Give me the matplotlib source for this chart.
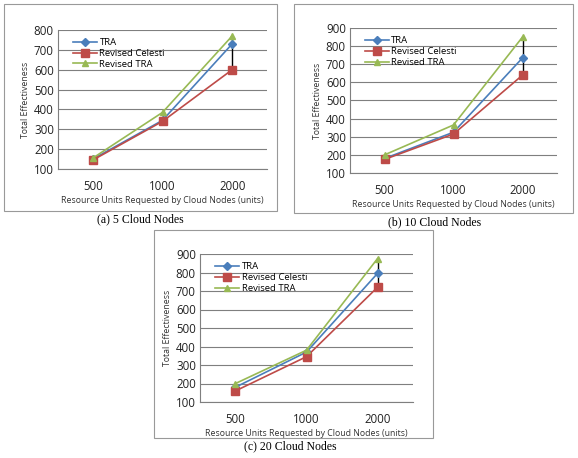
import numpy as np
import matplotlib
matplotlib.use("Agg")
from matplotlib import pyplot as plt
from matplotlib.patches import Rectangle

units = ["500", "1000", "2000"]
series_names = ["TRA", "Revised Celesti", "Revised TRA"]

tra_5 = [150, 345, 730]
celesti_5 = [145, 340, 600]
rtra_5 = [155, 385, 770]

tra_10 = [180, 325, 735]
celesti_10 = [175, 315, 640]
rtra_10 = [200, 365, 850]

tra_20 = [180, 370, 795]
celesti_20 = [160, 345, 720]
rtra_20 = [200, 380, 875]

captions = ["(a) 5 Cloud Nodes", "(b) 10 Cloud Nodes", "(c) 20 Cloud Nodes"]

W, H = 578, 458
colors = ["#4A7EBB", "#BE4B48", "#98B954"]
markers = ["D", "s", "^"]
msizes = [4, 6, 5]
sans = ["Open Sans", "DejaVu Sans"]

fig = plt.figure(figsize=(W / 100, H / 100), dpi=100)

def px_axes(x0, y0, x1, y1):
    return fig.add_axes([x0 / W, 1 - y1 / H, (x1 - x0) / W, (y1 - y0) / H])

def box(x0, y0, x1, y1):
    fig.patches.append(Rectangle((x0 / W, 1 - y1 / H), (x1 - x0) / W, (y1 - y0) / H,
                                 transform=fig.transFigure, fill=False,
                                 edgecolor="#999999", linewidth=0.8))

def panel(ax, data, ymax, caption, cap_xy):
    x = np.arange(len(units))
    arr = np.array(data)
    # high-low lines
    ax.vlines(x, arr.min(axis=0), arr.max(axis=0), color="black", linewidth=1.0, zorder=2)
    for vals, name, c, m, ms in zip(data, series_names, colors, markers, msizes):
        ax.plot(x, vals, color=c, marker=m, markersize=ms, linewidth=1.2,
                label=name, zorder=3)
    ax.set_xlim(-0.5, 2.5)
    ax.set_ylim(100, ymax)
    ax.set_yticks(np.arange(100, ymax + 1, 100))
    ax.set_xticks(x)
    ax.set_xticklabels(units)
    ax.grid(axis="y", color="#7f7f7f", linewidth=0.8)
    ax.set_axisbelow(True)
    for s in ["top", "right"]:
        ax.spines[s].set_visible(False)
    for s in ["left", "bottom"]:
        ax.spines[s].set_color("#7f7f7f")
    ax.tick_params(axis="both", length=0, labelsize=8.3, pad=3, labelcolor="#222222")
    ax.tick_params(axis="x", pad=8)
    for t in ax.get_xticklabels() + ax.get_yticklabels():
        t.set_family(sans)
    ax.set_xlabel("Resource Units Requested by Cloud Nodes (units)", fontsize=6.3,
                  family=sans, labelpad=2, color="#333333")
    ax.set_ylabel("Total Effectiveness", fontsize=6.3, family=sans, labelpad=3,
                  color="#333333")
    ax.legend(loc="upper left", frameon=False, bbox_to_anchor=(0.04, 0.99),
              prop={"family": sans, "size": 6.8}, handlelength=2.5,
              borderaxespad=0.3, labelspacing=0.2, handletextpad=0.3)
    fig.text(cap_xy[0] / W, 1 - cap_xy[1] / H, caption, ha="center", va="center",
             family="Liberation Serif", fontsize=8.5)

box(4, 4, 277, 211)
ax1 = px_axes(58, 30, 267, 169)
panel(ax1, [tra_5, celesti_5, rtra_5], 800, captions[0], (140, 219))

box(294, 4, 573, 213)
ax2 = px_axes(350, 28, 557, 173)
panel(ax2, [tra_10, celesti_10, rtra_10], 900, captions[1], (435, 222))

box(154, 230, 433, 438)
ax3 = px_axes(200, 254, 413, 402)
panel(ax3, [tra_20, celesti_20, rtra_20], 900, captions[2], (290, 446))

fig.savefig("out.png", dpi=100)
